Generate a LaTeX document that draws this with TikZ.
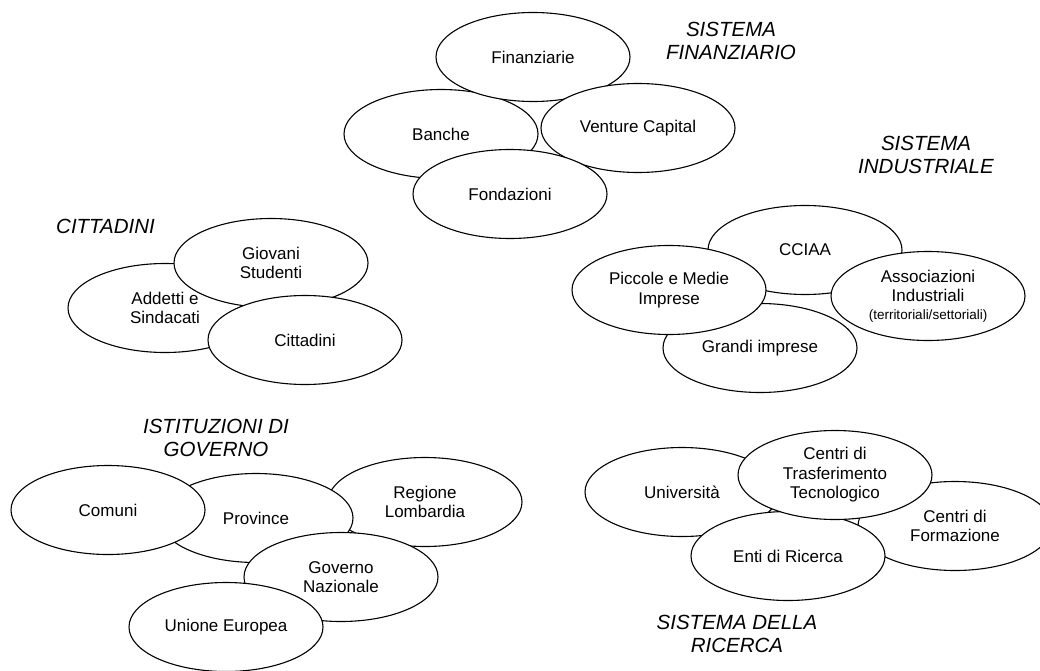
\documentclass[tikz,border=0pt]{standalone}
\usepackage{fontspec}
\setmainfont{Liberation Sans}
\usetikzlibrary{shapes.geometric}
\newcommand{\notesize}{\fontsize{13.5}{16}\selectfont}
\begin{document}
\begin{tikzpicture}[x=1pt,y=-1pt,
  actor/.style={ellipse,draw=black,fill=white,line width=1.1pt,
    minimum width=194pt,minimum height=89pt,inner sep=0pt,align=center,
    font=\fontsize{17}{19.5}\selectfont},
  group/.style={align=center,inner sep=0pt,
    font=\fontsize{20.5}{22.5}\selectfont\itshape}]
\useasboundingbox (0,0) rectangle (1040,671);

% Sistema finanziario
\node[actor] (banche) at (441,134) {Banche};
\node[actor] (finanz) at (533,57) {Finanziarie};
\node[actor] (venture) at (638,128) {Venture Capital};
\node[actor] (fondaz) at (510,194) {Fondazioni};
\node[group] (tfin) at (731,41) {SISTEMA\\FINANZIARIO};

% Sistema industriale
\node[actor] (cciaa) at (805,250) {CCIAA};
\node[actor] (grandi) at (760,348) {Grandi imprese};
\node[actor] (pmi) at (669,290) {Piccole e Medie\\Imprese};
\node[actor] (assoc) at (928,296) {Associazioni\\Industriali\\[-2pt]{\notesize(territoriali/settoriali)}};
\node[group] (tind) at (926,155) {SISTEMA\\INDUSTRIALE};

% Cittadini
\node[actor] (addetti) at (165,308) {Addetti e\\Sindacati};
\node[actor] (giovani) at (271,263) {Giovani\\Studenti};
\node[actor] (citt) at (305,340) {Cittadini};
\node[group,anchor=west] (tcitt) at (56,226) {CITTADINI};

% Istituzioni di governo
\node[actor] (regione) at (425,502) {Regione\\Lombardia};
\node[actor] (province) at (256,518) {Province};
\node[actor] (comuni) at (108,510) {Comuni};
\node[actor] (governo) at (341,577) {Governo\\Nazionale};
\node[actor] (ue) at (226,627) {Unione Europea};
\node[group] (tgov) at (216,438) {ISTITUZIONI DI\\GOVERNO};

% Sistema della ricerca
\node[actor] (univ) at (682,492) {Università};
\node[actor] (formaz) at (955,526) {Centri di\\Formazione};
\node[actor] (enti) at (788,556) {Enti di Ricerca};
\node[actor] (ctt) at (835,475) {Centri di\\Trasferimento\\Tecnologico};
\node[group] (tric) at (737,634) {SISTEMA DELLA\\RICERCA};
\end{tikzpicture}
\end{document}
